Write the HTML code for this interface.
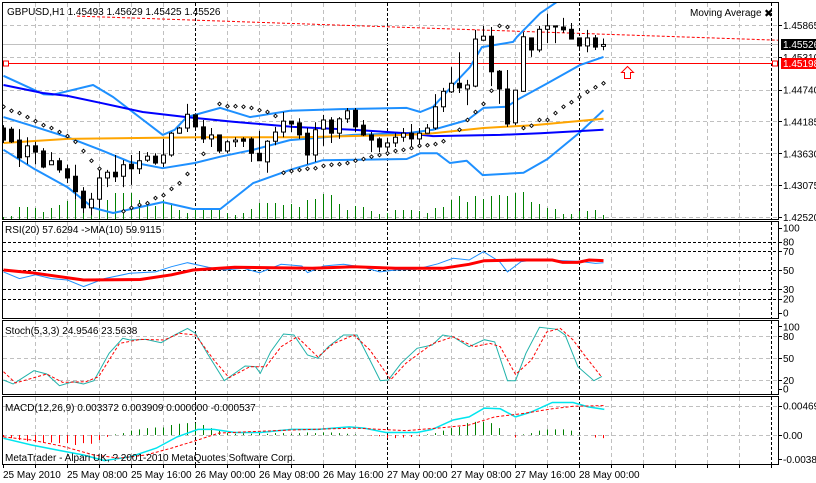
<!DOCTYPE html>
<html><head><meta charset="utf-8"><title>GBPUSD,H1</title>
<style>
html,body{margin:0;padding:0;background:#fff;}
svg{display:block;font-family:"Liberation Sans",sans-serif;font-size:10px;}
</style></head>
<body>
<svg id="chart" width="816" height="483" viewBox="0 0 816 483" xmlns="http://www.w3.org/2000/svg">
<defs>
<clipPath id="cMain"><rect x="3" y="3" width="775" height="216"/></clipPath>
<clipPath id="cRsi"><rect x="3" y="222" width="775" height="96"/></clipPath>
<clipPath id="cSto"><rect x="3" y="321" width="775" height="73"/></clipPath>
<clipPath id="cMacd"><rect x="3" y="397" width="775" height="67"/></clipPath>
</defs>
<g id="grid"></g>
<g id="main" clip-path="url(#cMain)"></g>
<g id="rsi" clip-path="url(#cRsi)"></g>
<g id="sto" clip-path="url(#cSto)"></g>
<g id="macd" clip-path="url(#cMacd)"></g>
<g id="frames" fill="none" stroke="#000" stroke-width="1">
<rect x="2.5" y="2.5" width="776" height="217"/>
<rect x="2.5" y="221.5" width="776" height="97"/>
<rect x="2.5" y="320.5" width="776" height="74"/>
<rect x="2.5" y="396.5" width="776" height="68"/>
</g>
<g id="axes"></g>
<text x="7" y="15">GBPUSD,H1  1.45493 1.45629 1.45425 1.45526</text>
<text x="690" y="16">Moving Average</text>
<text x="764" y="17" font-size="11">✖</text>
<text x="5" y="233">RSI(20) 57.6294  -&gt;MA(10) 59.9115</text>
<text x="5" y="334">Stoch(5,3,3) 24.9546 23.5638</text>
<text x="5" y="411">MACD(12,26,9) 0.003372 0.003909 0.000000 -0.000537</text>
<text x="5" y="461">MetaTrader - Alpari UK, ? 2001-2010 MetaQuotes Software Corp.</text>
</svg>
<script>
// ---------- data ----------
const opens  = [1.4407,1.4405,1.4386,1.4357,1.4376,1.4367,1.4343,1.4350,1.4336,1.4323,1.4297,1.4268,1.4283,1.4320,1.4330,1.4323,1.4344,1.4336,1.4351,1.4358,1.4346,1.4360,1.4398,1.4407,1.4430,1.4409,1.4388,1.4395,1.4367,1.4383,1.4388,1.4388,1.4363,1.4348,1.4384,1.4400,1.4419,1.4416,1.4398,1.4360,1.4405,1.4421,1.4398,1.4423,1.4438,1.4412,1.4395,1.4388,1.4374,1.4381,1.4391,1.4398,1.4388,1.4398,1.4407,1.4444,1.4470,1.4485,1.4475,1.4480,1.4560,1.4567,1.4506,1.4475,1.4416,1.4471,1.4564,1.4543,1.4579,1.4585,1.4583,1.4579,1.4564,1.4550,1.4564,1.45493];
const highs  = [1.4412,1.4409,1.4405,1.4391,1.4383,1.4372,1.4365,1.4355,1.4343,1.4343,1.4304,1.4294,1.4337,1.4334,1.4360,1.4351,1.4360,1.4367,1.4365,1.4363,1.4388,1.4400,1.4409,1.4449,1.4430,1.4421,1.4407,1.4395,1.4386,1.4391,1.4391,1.4391,1.4402,1.4386,1.4409,1.4435,1.4419,1.4424,1.4407,1.4417,1.4430,1.4426,1.4426,1.4442,1.4442,1.4421,1.4400,1.4391,1.4390,1.4398,1.4407,1.4414,1.4407,1.4414,1.4466,1.4477,1.4513,1.4539,1.4491,1.4578,1.4585,1.4583,1.4508,1.4508,1.4473,1.4574,1.4564,1.4585,1.4606,1.4585,1.4599,1.4590,1.4564,1.4578,1.4569,1.45629];
const lows   = [1.4381,1.4381,1.4339,1.4344,1.4344,1.4337,1.4343,1.4329,1.4311,1.4282,1.4259,1.4255,1.4268,1.4304,1.4313,1.4304,1.4308,1.4327,1.4348,1.4343,1.4339,1.4357,1.4397,1.4400,1.4402,1.4381,1.4374,1.4363,1.4363,1.4374,1.4374,1.4348,1.4350,1.4329,1.4377,1.4391,1.4400,1.4388,1.4344,1.4348,1.4376,1.4381,1.4388,1.4416,1.4400,1.4393,1.4365,1.4365,1.4369,1.4374,1.4383,1.4372,1.4374,1.4398,1.4404,1.4435,1.4468,1.4468,1.4447,1.4478,1.4559,1.4480,1.4449,1.4409,1.4412,1.4470,1.4531,1.4539,1.4555,1.4555,1.4573,1.4562,1.4543,1.4539,1.4543,1.45425];
const closes = [1.4386,1.4383,1.4355,1.4376,1.4365,1.4339,1.4350,1.4334,1.4320,1.4296,1.4268,1.4283,1.4320,1.4330,1.4322,1.4343,1.4336,1.4350,1.4358,1.4346,1.4360,1.4398,1.4407,1.4431,1.4409,1.4388,1.4395,1.4367,1.4383,1.4386,1.4384,1.4363,1.4350,1.4384,1.4400,1.4419,1.4414,1.4395,1.4360,1.4404,1.4421,1.4398,1.4423,1.4437,1.4409,1.4395,1.4386,1.4374,1.4381,1.4391,1.4398,1.4388,1.4398,1.4407,1.4444,1.4471,1.4485,1.4477,1.4482,1.4562,1.4567,1.4505,1.4475,1.4414,1.4473,1.4566,1.4543,1.4579,1.4585,1.4583,1.4578,1.4562,1.4550,1.4564,1.4548,1.45526];
const volumes = [200,300,1200,1200,1100,700,1100,1400,1800,1900,2300,1600,2400,1900,2600,2600,2600,1900,1700,1300,1900,1600,900,600,1100,1100,1100,1100,600,400,600,1000,1600,1600,1600,1400,1500,1200,1900,2000,2500,2400,1500,900,1300,1200,800,500,600,900,900,900,800,600,1100,1200,1900,2300,1700,2300,2000,2300,2400,2300,2600,2700,1700,1500,1100,1000,500,500,800,800,900,400];
const sar = [1.4444,1.4437,1.4433,1.4426,1.4419,1.4412,1.4407,1.4400,1.4393,1.4383,1.4367,1.4350,1.4336,null,null,1.4262,1.4268,1.4273,1.4276,1.4285,1.4290,1.4301,1.4311,1.4327,null,1.4362,null,1.4449,1.4445,1.4445,1.4444,1.4442,1.4438,1.4435,1.4428,1.4329,1.4332,1.4334,1.4336,1.4337,1.4341,1.4343,1.4344,1.4346,1.4350,1.4353,1.4357,1.4360,1.4363,1.4367,1.4369,1.4372,1.4376,1.4377,1.4379,1.4384,null,1.4404,1.4421,1.4435,1.4449,1.4472,1.4585,1.4583,null,1.4407,1.4411,1.4421,1.4421,1.4433,1.4444,1.4452,1.4461,1.4470,1.4478,1.4485];
// Bollinger bands & moving averages: [bar index, price]
const bbUpper = [[0,1.4498],[5,1.4466],[6.2,1.4465],[11.2,1.4482],[13.7,1.4461],[19.9,1.4395],[21.4,1.4404],[22.9,1.4426],[27.1,1.4442],[30.8,1.4426],[35.8,1.4437],[42.1,1.4440],[50.4,1.4442],[52.1,1.4435],[53.7,1.4444],[56.2,1.4482],[58.3,1.4513],[59.8,1.4548],[63.7,1.4557],[64.2,1.4566],[67.1,1.4607],[69.2,1.4627],[75,1.4668]];
const bbMiddle = [[0,1.4426],[3.3,1.4412],[8,1.4391],[12.1,1.4369],[15.8,1.4348],[19.9,1.4337],[23.9,1.4346],[27.1,1.4357],[31.2,1.4369],[35.8,1.4386],[43.7,1.4395],[50.4,1.4398],[53.7,1.4404],[58,1.4421],[60,1.4442],[62.9,1.4444],[64.2,1.4456],[68,1.4485],[72.1,1.4517],[75,1.4531]];
const bbLower = [[0,1.4369],[3.7,1.4337],[8,1.4304],[11.2,1.4268],[13.7,1.4259],[19.9,1.4278],[23.7,1.4266],[27.1,1.4266],[31.2,1.4311],[35.8,1.4334],[39.9,1.4351],[50.4,1.4353],[52.1,1.4363],[54.2,1.4363],[55.8,1.4346],[57.9,1.4350],[59.9,1.4325],[65,1.4329],[68,1.4353],[72.1,1.4400],[75,1.4438]];
const maBlue = [[0,1.4482],[4.9,1.4468],[8,1.4463],[12.1,1.4451],[17.4,1.4435],[22.9,1.4426],[28.7,1.4418],[36.2,1.4409],[43.7,1.4404],[50.4,1.4398],[53.7,1.4393],[62.1,1.4395],[67.1,1.4398],[75,1.4404]];
const maOrange = [[0,1.4381],[8,1.4388],[24.6,1.4391],[37.1,1.4391],[50.4,1.4395],[53.7,1.4398],[60,1.4407],[66.2,1.4412],[75,1.4423]];
const trendLine = [[9.2,1.4602],[96.8,1.4560]];
const bidPrice = 1.45526;
const alertPrice = 1.45198;
const priceTicks = ["1.45865","1.45310","1.44740","1.44185","1.43630","1.43075","1.42520"];
// RSI
const rsiLine = [[0,48],[2,41],[4,45],[6,41],[8,39.5],[10,32.5],[12.6,41],[15.8,46.5],[19,48],[21,53.5],[23,57.7],[25.6,52.8],[27.6,50],[30,51.8],[32,47.2],[34.7,56],[37.3,54.2],[38,47.2],[40,54.2],[42.5,56],[45,52.8],[47,48],[49,50],[51.6,50.8],[54.3,56.5],[56.2,62.3],[58.2,60.5],[60,69.3],[62,58.8],[63,48],[64.7,58.8],[67.3,61.3],[70,59.8],[72,59],[74,57],[75,57.6]];
const rsiMa = [[0,50],[3.5,47.2],[10,39.5],[17.1,40],[21,45],[23.7,50],[28.9,52.8],[38.6,51.8],[43.8,53.5],[49,51.8],[54.9,51.8],[58.2,56],[60.1,59.8],[64.7,60.5],[68.6,60.5],[69.9,58],[71.8,58],[73.2,60.5],[75,59.9]];
const rsiLevels = [80,70,50,30,20];
const rsiTicks = [100,80,70,50,30,20,0];
// Stochastic
const stoMain = [[0,20],[1.2,14.6],[3.8,32.8],[5.4,28.2],[7,12.3],[8.7,17.7],[10,14.6],[11.3,19.1],[13.2,56.5],[14.9,77],[15.8,74.6],[17.8,75.5],[19.7,71],[21.4,81.4],[23,90.5],[24,83.7],[25.6,54.2],[27.6,19.1],[30.2,39.1],[31.5,38.2],[32.1,29.2],[33.4,58.7],[35,82.8],[36.3,81.4],[38,54.2],[39.3,49.6],[40.6,65.5],[42.5,81.4],[44.2,81.4],[45.8,47.3],[47.1,19.1],[48.1,20],[49.7,42.8],[51.7,63.3],[53.6,67.8],[54.9,81.4],[56.2,79],[58.2,65.5],[60.1,75],[61.4,72],[63,19.1],[64,19.1],[65.3,56.5],[67,92],[69.2,89.2],[70.2,81.4],[71.8,38.2],[73.8,19.1],[74.8,24.9]];
const stoSignal = [[0,31.4],[1.5,15.9],[5.4,28.2],[7.4,16.8],[10.3,17.7],[11.9,24.5],[14.5,70],[17.1,75.5],[20.1,74.6],[22,83.7],[24,81.4],[26.3,47.3],[28.2,23.2],[30.8,38.2],[32.8,38.2],[34.7,65.5],[36.7,79],[39.3,51.4],[41.2,69.5],[43.8,81.4],[45.8,61],[48.4,20.5],[50.3,42.8],[53.6,69.5],[56.2,79],[58.8,65.5],[60.8,70],[62.1,65.5],[64,27.6],[66,47.3],[67.9,85.6],[69.6,90.5],[71.2,74.6],[72.8,51.4],[74.8,23.6]];
const stoLevels = [80,50,20];
const stoTicks = [100,80,50,20,0];
// MACD
const macdMain = [[0,-0.00053],[3.5,-0.0016],[6.7,-0.0024],[10,-0.0032],[12.6,-0.0041],[15.8,-0.0035],[19.1,-0.0021],[21.7,-0.0003],[24.3,0.0009],[26.3,0.0009],[28.9,0.0004],[32.1,0.0004],[36,0.0009],[39.3,0.0009],[43.2,0.0013],[45.1,0.0011],[47.8,0.0004],[51.7,0.0004],[53.6,0.0009],[56.2,0.0024],[58.2,0.0029],[60.1,0.0043],[62.1,0.0042],[64,0.0029],[66,0.0037],[68.6,0.0052],[71.2,0.0052],[73.1,0.0045],[75.1,0.0041]];
const macdSignal = [[0,-0.0003],[3.5,-0.0008],[7.4,-0.0018],[11.3,-0.0032],[14.5,-0.0037],[17.8,-0.0032],[21,-0.0021],[24.3,-0.0008],[26.9,0.0003],[30.2,0.0005],[36,0.0008],[43.8,0.0011],[50.3,0.0007],[54.3,0.0011],[58.2,0.0016],[61.4,0.0029],[64.7,0.0034],[68.6,0.0042],[71.2,0.0046],[75.1,0.0047]];
const macdHist = [-0.0003,-0.0005,-0.0008,-0.0010,-0.0011,-0.0012,-0.0012,-0.0013,-0.0013,-0.0016,-0.0013,-0.0014,-0.0008,-0.0003,0.0001,0.0003,0.0007,0.0009,0.0011,0.0012,0.0012,0.0016,0.0018,0.0019,0.0019,0.0016,0.0011,0.0007,0.0003,0.0002,0.0003,0.0002,0.0003,0.0002,0.0003,0.0003,0.0002,0.0003,0.0004,0.0003,0.0004,0.0004,0.0003,0.0002,0.0001,0.0000,-0.0001,-0.0002,-0.0005,-0.0005,-0.0004,-0.0003,-0.0002,0.0001,0.0003,0.0007,0.0011,0.0013,0.0019,0.0021,0.0021,0.0019,0.0011,0.0000,-0.0004,0.0001,0.0003,0.0007,0.0009,0.0009,0.0009,0.0007,0.0001,0.0000,-0.0004,-0.0005];
const macdTicks = ["0.00469","0.00","-0.00387"];
const macdTickValues = [0.00469,0,-0.00387];
const timeLabels = ["25 May 2010","25 May 08:00","25 May 16:00","26 May 00:00","26 May 08:00","26 May 16:00","27 May 00:00","27 May 08:00","27 May 16:00","28 May 00:00"];

// ---------- scales ----------
const NS = "http://www.w3.org/2000/svg";
function xBar(i){ return 3.5 + 8*i; }
function yPrice(p){ return 217 - (p - 1.4252)*5740; }
function yRsi(v){ return 317.5 - 0.95*v; }
function ySto(v){ return 394.7 - 0.733*v; }
function yMacd(v){ return 435 - v*6250; }
function mk(tag, attrs, parent){
  const e = document.createElementNS(NS, tag);
  for (const k in attrs) e.setAttribute(k, attrs[k]);
  parent.appendChild(e);
  return e;
}
function pathFrom(pts, ys){
  return pts.map((p,k)=>(k?"L":"M")+xBar(p[0]).toFixed(1)+","+ys(p[1]).toFixed(1)).join(" ");
}

// ---------- grid ----------
const grid = document.getElementById('grid');
const panels = [[3,219],[222,318],[321,394],[397,464]];
for (let k=1;k<=24;k++){
  const x = 3 + 32*k + 0.5;
  const day = (k % 6) === 0;
  panels.forEach(pn=>{
    const l = mk('line',{x1:x,x2:x,y1:pn[0],y2:pn[1],stroke:day?'#000':'#c0c0c0','stroke-dasharray':day?'3,2':'4,3','stroke-width':1},grid);
    
    
  });
}
const priceGridVals = priceTicks.map(Number);
priceGridVals.forEach(v=>{
  const y = Math.round(yPrice(v))+0.5;
  const l = mk('line',{x1:3,x2:778,y1:y,y2:y,stroke:'#c0c0c0','stroke-dasharray':'4,3'},grid);
  
  
});
rsiLevels.forEach(v=>{
  const y = Math.round(yRsi(v))+0.5;
  const l = mk('line',{x1:3,x2:778,y1:y,y2:y,stroke:'#000','stroke-dasharray':'3,2'},grid);
  
  
});
stoLevels.forEach(v=>{
  const y = Math.round(ySto(v))+0.5;
  const l = mk('line',{x1:3,x2:778,y1:y,y2:y,stroke:'#c0c0c0','stroke-dasharray':'4,3'},grid);
  
  
});
[0,0.00469].forEach(v=>{
  const y = Math.round(yMacd(v))+0.5;
  const l = mk('line',{x1:3,x2:778,y1:y,y2:y,stroke:'#c0c0c0','stroke-dasharray':'4,3'},grid);
  
  
});

// ---------- main panel ----------
const main = document.getElementById('main');
volumes.forEach((v,i)=>{
  const x = Math.floor(xBar(i))+0.5;
  const l = mk('line',{x1:x,x2:x,y1:219,y2:219 - v/100,stroke:'#008000','stroke-width':1},main);
  
  
});
const tl = mk('path',{d:pathFrom(trendLine,yPrice),stroke:'#ff0000','stroke-dasharray':'3,2',fill:'none','stroke-width':1},main);


const bl = mk('line',{x1:3,x2:778,y1:Math.round(yPrice(bidPrice))+0.5,y2:Math.round(yPrice(bidPrice))+0.5,stroke:'#c0c0c0'},main);


const ay = Math.round(yPrice(alertPrice))+0.5;
const al = mk('line',{x1:3,x2:778,y1:ay,y2:ay,stroke:'#ff0000'},main);


const as1 = mk('rect',{x:3.5,y:ay-2.5,width:5,height:5,fill:'#fff',stroke:'#ff0000'},main);


const as2 = mk('rect',{x:772.5,y:ay-2.5,width:5,height:5,fill:'#fff',stroke:'#ff0000'},main);


[[bbUpper,'#1e90ff',2,'bollinger-upper'],[bbMiddle,'#1e90ff',2,'bollinger-middle'],[bbLower,'#1e90ff',2,'bollinger-lower'],[maBlue,'#0000ff',2,'moving-average-blue'],[maOrange,'#ffa500',2,'moving-average-orange']].forEach(s=>{
  const p = mk('path',{d:pathFrom(s[0],yPrice),stroke:s[1],'stroke-width':s[2],fill:'none','stroke-linejoin':'round'},main);
  
  
});
opens.forEach((o,i)=>{
  const c = closes[i], h = highs[i], l = lows[i];
  const x = Math.floor(xBar(i))+0.5;
  const g = mk('g',{},main);
  
  
  mk('line',{x1:x,x2:x,y1:yPrice(h),y2:yPrice(l),stroke:'#000'},g);
  const top = yPrice(Math.max(o,c)), bot = yPrice(Math.min(o,c));
  mk('rect',{x:x-2,y:top,width:4,height:Math.max(bot-top,1),fill:c>=o?'#fff':'#000',stroke:'#000'},g);
});
sar.forEach((v,i)=>{
  if (v===null) return;
  const x = xBar(i), y = yPrice(v);
  const d = mk('path',{d:`M${x},${y-1.8} L${x+1.8},${y} L${x},${y+1.8} L${x-1.8},${y} Z`,fill:'#fff',stroke:'#000','stroke-width':0.9},main);
  
  
});
const arr = mk('path',{d:'M627.5,66.5 L633.5,72.5 L630.5,72.5 L630.5,78.5 L624.5,78.5 L624.5,72.5 L621.5,72.5 Z',fill:'#fff',stroke:'#ff0000'},main);



// ---------- RSI ----------
const rsi = document.getElementById('rsi');
const r1 = mk('path',{d:pathFrom(rsiLine,yRsi),stroke:'#1e90ff',fill:'none','stroke-width':1},rsi);


const r2 = mk('path',{d:pathFrom(rsiMa,yRsi),stroke:'#ff0000',fill:'none','stroke-width':3},rsi);



// ---------- Stochastic ----------
const sto = document.getElementById('sto');
const s1 = mk('path',{d:pathFrom(stoMain,ySto),stroke:'#20b2aa',fill:'none','stroke-width':1},sto);


const s2 = mk('path',{d:pathFrom(stoSignal,ySto),stroke:'#ff0000',fill:'none','stroke-width':1,'stroke-dasharray':'3,2'},sto);



// ---------- MACD ----------
const macd = document.getElementById('macd');
macdHist.forEach((v,i)=>{
  const x = Math.floor(xBar(i))+0.5;
  const l = mk('line',{x1:x,x2:x,y1:yMacd(0),y2:yMacd(v),stroke:v>=0?'#008000':'#ff0000'},macd);
  
  
});
const m1 = mk('path',{d:pathFrom(macdMain,yMacd),stroke:'#00e5ee',fill:'none','stroke-width':1.5},macd);


const m2 = mk('path',{d:pathFrom(macdSignal,yMacd),stroke:'#ff0000',fill:'none','stroke-width':1,'stroke-dasharray':'3,2'},macd);



// ---------- axes ----------
const axes = document.getElementById('axes');
function tick(y, label, name){
  mk('line',{x1:779,x2:782,y1:Math.round(y)+0.5,y2:Math.round(y)+0.5,stroke:'#000'},axes);
  const t = mk('text',{x:783,y:y+4},axes);
  t.textContent = label;
  
  
}
priceTicks.forEach(p=>tick(yPrice(Number(p)), p, 'price-tick-label'));
rsiTicks.forEach(v=>tick(yRsi(v) + (v===100?5:v===0?-5:0), String(v), 'rsi-tick-label'));
stoTicks.forEach(v=>tick(ySto(v) + (v===100?5:v===0?-6:0), String(v), 'stochastic-tick-label'));
macdTicks.forEach((s,k)=>tick(yMacd(macdTickValues[k]), s, 'macd-tick-label'));
function priceBox(p, bg, name){
  const y = Math.round(yPrice(p));
  const g = mk('g',{},axes);
  
  
  mk('rect',{x:781,y:y-5,width:35,height:11,fill:bg},g);
  const t = mk('text',{x:783,y:y+4,fill:'#fff'},g);
  t.textContent = p.toFixed(5);
}
priceBox(bidPrice,'#000','bid-price-box');
priceBox(alertPrice,'#ff0000','alert-price-box');
for (let k=0;k<=24;k++){
  const x = 3 + 32*k + 0.5;
  mk('line',{x1:x,x2:x,y1:465,y2:468,stroke:'#000'},axes);
}
timeLabels.forEach((s,k)=>{
  const t = mk('text',{x:3+64*k,y:478},axes);
  t.textContent = s;
  
  
});
</script>
</body></html>
